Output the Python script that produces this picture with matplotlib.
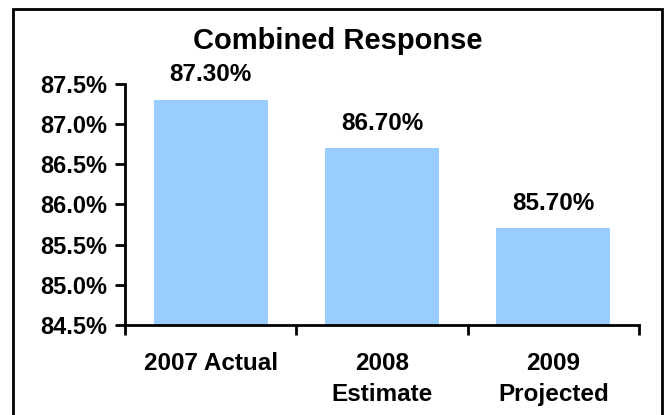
import matplotlib
matplotlib.use("Agg")
import matplotlib.pyplot as plt
from matplotlib.patches import Rectangle
from matplotlib.ticker import FixedLocator, NullFormatter

categories = ["2007 Actual", "2008\nEstimate", "2009\nProjected"]
values = [87.30, 86.70, 85.70]
value_labels = ["87.30%", "86.70%", "85.70%"]
yticks = [84.5, 85.0, 85.5, 86.0, 86.5, 87.0, 87.5]
ytick_labels = ["84.5%", "85.0%", "85.5%", "86.0%", "86.5%", "87.0%", "87.5%"]

plt.rcParams['font.family'] = ['Liberation Sans', 'DejaVu Sans']
plt.rcParams['font.weight'] = 'bold'

fig = plt.figure(figsize=(6.69, 4.15), dpi=100)
ax = fig.add_axes([0.187, 0.217, 0.768, 0.581])

x = list(range(len(categories)))
ax.bar(x, values, width=0.667, color="#99CCFF", bottom=0)
ax.set_ylim(84.5, 87.5)
ax.set_xlim(-0.5, len(categories) - 0.5)

for xi, v, lab in zip(x, values, value_labels):
    ax.text(xi, v + 0.31, lab, ha="center", va="center", fontsize=17.5, fontweight="bold")

ax.set_yticks(yticks)
ax.set_yticklabels(ytick_labels, fontsize=17, fontweight="bold")
ax.set_xticks(x)
ax.set_xticklabels(categories, fontsize=17.5, fontweight="bold", linespacing=1.44)
ax.tick_params(axis="x", which="major", length=0, pad=19.5)
ax.xaxis.set_minor_locator(FixedLocator([-0.5, 0.5, 1.5, 2.5]))
ax.xaxis.set_minor_formatter(NullFormatter())
ax.tick_params(axis="x", which="minor", length=7, width=2, direction="out")
ax.tick_params(axis="y", length=7, width=2, direction="out", pad=6)

for s in ["top", "right"]:
    ax.spines[s].set_visible(False)
for s in ["left", "bottom"]:
    ax.spines[s].set_linewidth(2)

ax.set_title("Combined Response", fontsize=21, fontweight="bold", pad=25, x=0.414)

fig.patches.append(Rectangle((13 / 669, -0.05), (662 - 13) / 669, 1.0 + 0.05 - 9 / 415,
                             transform=fig.transFigure, fill=False, edgecolor="black",
                             linewidth=2, figure=fig))

fig.savefig("out.png", dpi=100)
